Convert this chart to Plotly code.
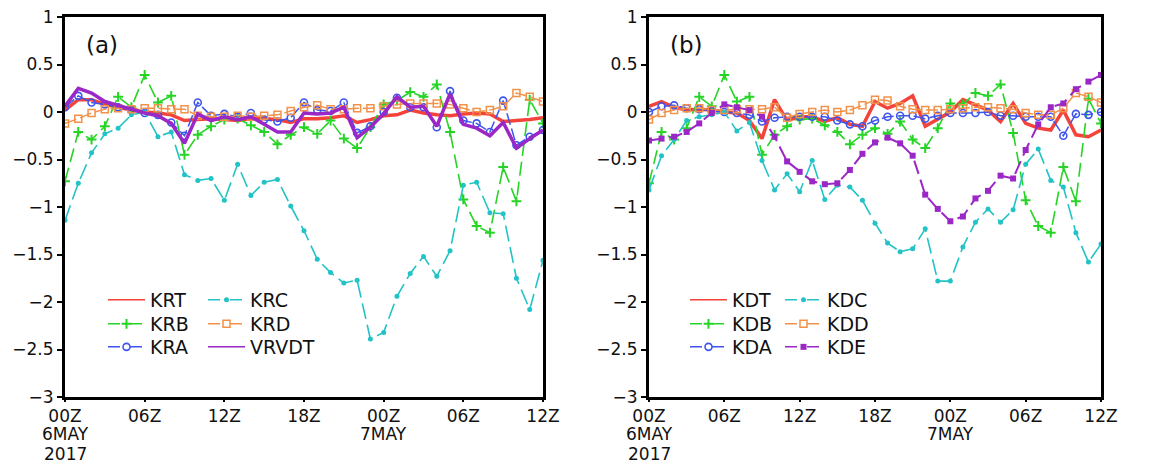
import copy
import plotly.graph_objects as go

# ---------------- data ----------------
hours = list(range(37))  # hourly, 00Z 6 May 2017 -> 12Z 7 May 2017
tick_hours = [0, 6, 12, 18, 24, 30, 36]
tick_text = ["00Z", "06Z", "12Z", "18Z", "00Z", "06Z", "12Z"]
date_hours = [0, 0, 24]
date_text = ["6MAY", "2017", "7MAY"]
date_line = [1, 2, 1]  # line below the hour label
y_ticks = [1, 0.5, 0, -0.5, -1, -1.5, -2, -2.5, -3]
y_text = ["1", "0.5", "0", "\u22120.5", "\u22121", "\u22121.5", "\u22122", "\u22122.5", "\u22123"]

# panel (a)
KRT = [0.02, 0.13, 0.13, 0.08, 0.05, 0.02, 0.0, -0.01, -0.03, -0.09, -0.08, -0.07, -0.08, -0.09,
       -0.07, -0.07, -0.08, -0.11, -0.07, -0.07, -0.06, -0.04, -0.11, -0.08, -0.04, -0.03, 0.02,
       -0.01, -0.03, -0.04, -0.02, -0.01, -0.02, -0.10, -0.09, -0.08, -0.06]
KRB = [-0.73, -0.21, -0.29, -0.15, 0.16, 0.05, 0.39, 0.10, 0.17, -0.45, -0.24, -0.15, -0.08, -0.07,
       -0.14, -0.21, -0.34, -0.24, -0.16, -0.23, -0.09, -0.28, -0.38, -0.16, 0.08, 0.12, 0.21,
       0.16, 0.29, -0.21, -0.92, -1.20, -1.27, -0.58, -0.94, 0.13, -0.12]
KRA = [0.05, 0.17, 0.10, 0.08, 0.05, 0.02, -0.01, -0.03, -0.11, -0.25, 0.10, -0.04, -0.02, -0.05,
       -0.01, -0.08, -0.10, -0.06, 0.10, 0.02, 0.01, 0.10, -0.22, -0.15, 0.0, 0.15, 0.05, 0.05,
       -0.16, 0.22, -0.09, -0.12, -0.21, 0.12, -0.35, -0.26, -0.19]
KRC = [-1.14, -0.75, -0.43, -0.23, -0.17, -0.03, 0.0, -0.26, -0.21, -0.66, -0.72, -0.70, -0.93,
       -0.55, -0.88, -0.74, -0.71, -0.99, -1.25, -1.55, -1.69, -1.80, -1.77, -2.39, -2.32, -1.94,
       -1.70, -1.52, -1.73, -1.46, -0.77, -0.74, -1.06, -1.07, -1.75, -2.08, -1.56]
KRD = [-0.12, -0.07, -0.01, 0.03, 0.04, 0.03, 0.04, 0.04, 0.03, 0.03, -0.04, -0.05, -0.05, -0.04,
       -0.05, -0.04, -0.03, 0.01, 0.05, 0.07, 0.03, 0.03, 0.04, 0.04, 0.06, 0.08, 0.09, 0.09, 0.09,
       0.08, 0.04, 0.0, 0.02, 0.06, 0.20, 0.16, 0.11]
VRVDT = [0.06, 0.25, 0.20, 0.11, 0.07, 0.03, -0.01, -0.04, -0.12, -0.33, -0.02, -0.09, -0.05, -0.08,
         -0.05, -0.13, -0.21, -0.21, -0.01, -0.02, -0.01, 0.05, -0.27, -0.16, -0.02, 0.16, 0.05,
         0.06, -0.15, 0.19, -0.13, -0.17, -0.25, -0.11, -0.38, -0.28, -0.19]

# panel (b)
KDT = [0.06, 0.11, 0.05, 0.02, 0.03, 0.02, 0.0, -0.01, -0.09, -0.28, 0.13, -0.09, -0.05, -0.05,
       -0.10, -0.06, -0.13, -0.15, 0.11, 0.04, 0.09, 0.17, -0.15, -0.08, 0.0, 0.13, 0.07, 0.02,
       -0.10, 0.09, -0.12, -0.17, -0.19, 0.02, -0.24, -0.26, -0.19]
KDB = [-0.75, -0.21, -0.29, -0.17, 0.16, 0.06, 0.39, 0.11, 0.16, -0.45, -0.24, -0.15, -0.08, -0.07,
       -0.14, -0.21, -0.34, -0.24, -0.17, -0.23, -0.10, -0.29, -0.38, -0.17, 0.09, 0.08, 0.20,
       0.17, 0.29, -0.22, -0.93, -1.20, -1.27, -0.58, -0.94, 0.14, -0.12]
KDA = [0.0, 0.06, 0.07, 0.04, 0.03, 0.01, 0.0, -0.01, -0.03, -0.10, -0.06, -0.05, -0.05, -0.05,
       -0.05, -0.09, -0.13, -0.15, -0.09, -0.05, -0.04, -0.04, -0.07, -0.04, -0.01, -0.01, -0.01,
       0.0, -0.04, -0.04, -0.05, -0.05, -0.05, -0.25, -0.02, -0.03, 0.0]
KDC = [-0.82, -0.46, -0.29, -0.09, -0.05, -0.03, 0.0, -0.20, -0.11, -0.51, -0.82, -0.65, -0.84,
       -0.51, -0.92, -0.77, -0.79, -0.93, -1.17, -1.38, -1.47, -1.44, -1.23, -1.78, -1.78, -1.42,
       -1.16, -1.02, -1.16, -1.03, -0.55, -0.39, -0.72, -0.79, -1.27, -1.58, -1.39]
KDD = [-0.08, -0.01, 0.02, 0.04, 0.04, 0.02, 0.02, 0.03, 0.03, 0.03, 0.05, -0.06, -0.02, 0.0,
       0.02, 0.0, 0.02, 0.07, 0.13, 0.12, 0.06, 0.03, 0.02, 0.02, 0.03, 0.04, 0.05, 0.05, 0.04,
       0.03, -0.01, -0.03, -0.03, 0.04, 0.20, 0.16, 0.10]
KDE = [-0.30, -0.28, -0.26, -0.21, -0.12, -0.01, 0.08, 0.05, 0.02, -0.05, -0.26, -0.52, -0.63,
       -0.73, -0.76, -0.75, -0.61, -0.44, -0.32, -0.27, -0.33, -0.46, -0.87, -1.02, -1.15, -1.10,
       -0.91, -0.83, -0.67, -0.70, -0.40, -0.13, 0.05, 0.09, 0.24, 0.32, 0.39]

# ---------------- styles ----------------
RED = "#f4433b"
GREEN = "#25d425"
BLUE = "#3d55ee"
CYAN = "#22c3c6"
ORANGE = "#f2924a"
PURPLE = "#9a27c6"
FONT = "DejaVu Sans"

styles = {
    "T": dict(mode="lines", line=dict(color=RED, width=3.5)),
    "B": dict(mode="lines+markers", line=dict(color=GREEN, width=1.6, dash="14px,6px"),
              marker=dict(symbol="cross-thin", size=7, line=dict(width=2, color=GREEN))),
    "A": dict(mode="lines+markers", line=dict(color=BLUE, width=1.5, dash="12px,4px"),
              marker=dict(symbol="circle-open", size=7, color=BLUE, line=dict(width=1.6, color=BLUE))),
    "C": dict(mode="lines+markers", line=dict(color=CYAN, width=1.6, dash="16px,6px"),
              marker=dict(symbol="circle", size=5, color=CYAN)),
    "D": dict(mode="lines+markers", line=dict(color=ORANGE, width=1.5, dash="12px,4px"),
              marker=dict(symbol="square-open", size=7, color=ORANGE, line=dict(width=1.5, color=ORANGE))),
    "V": dict(mode="lines", line=dict(color=PURPLE, width=3.5)),
    "E": dict(mode="lines+markers", line=dict(color=PURPLE, width=2, dash="14px,6px"),
              marker=dict(symbol="square", size=6, color=PURPLE)),
}
# legend samples are drawn thin, like the original
legend_dash = {"T": None, "V": None, "B": "12px,10px", "A": "12px,10px", "C": "12px,10px",
               "D": "12px,10px", "E": "12px,10px"}

PW, PH = 1036, 380  # plot-area size in px (margins l=65, r=53, t=17, b=71)


def px2paper(xp, yp):
    return (xp - 65) / PW, (397 - yp) / PH


fig = go.Figure()

panels = [
    ("x", "y", [("KRT", KRT, "T"), ("KRB", KRB, "B"), ("KRA", KRA, "A"),
                ("KRC", KRC, "C"), ("KRD", KRD, "D"), ("VRVDT", VRVDT, "V")], 103, 203),
    ("x2", "y2", [("KDT", KDT, "T"), ("KDB", KDB, "B"), ("KDA", KDA, "A"),
                  ("KDC", KDC, "C"), ("KDD", KDD, "D"), ("KDE", KDE, "E")], 685, 780),
]
row_y = [300, 324, 347]
legend_layouts = {}
li = 1
for xa, ya, series, c1, c2 in panels:
    for i, (name, vals, st) in enumerate(series):
        fig.add_trace(go.Scatter(x=hours, y=vals, name=name, xaxis=xa, yaxis=ya,
                                 showlegend=False, **styles[st]))
    for i, (name, vals, st) in enumerate(series):
        lname = "legend" if li == 1 else f"legend{li}"
        col = c1 if i < 3 else c2
        lx, ly = px2paper(col, row_y[i % 3])
        legend_layouts[lname] = dict(x=lx, y=ly, xanchor="left", yanchor="middle",
                                     bgcolor="rgba(0,0,0,0)", borderwidth=0, itemwidth=37,
                                     font=dict(family=FONT, size=19, color="#111"),
                                     tracegroupgap=0)
        st_leg = copy.deepcopy(styles[st])
        st_leg["line"]["width"] = 1.5
        if legend_dash[st]:
            st_leg["line"]["dash"] = legend_dash[st]
        # legend-only proxy (no data points drawn)
        fig.add_trace(go.Scatter(x=[None], y=[None], name=name, xaxis=xa, yaxis=ya,
                                 legend=lname, showlegend=True, **st_leg))
        li += 1

axis_common = dict(showline=True, mirror=True, linewidth=3, linecolor="black",
                   ticks="outside", tickwidth=1.5, tickcolor="black",
                   showgrid=False, zeroline=False, automargin=False)
xfont = dict(family=FONT, size=17, color="#111")
yfont = dict(family=FONT, size=17, color="#111")

fig.update_layout(
    width=1154, height=468,
    margin=dict(l=65, r=53, t=17, b=71, autoexpand=False),
    paper_bgcolor="white", plot_bgcolor="white",
    xaxis=dict(domain=[0, 478 / PW], range=[0, 36], tickmode="array", tickvals=tick_hours,
               ticktext=tick_text, anchor="y", tickfont=xfont, ticklen=2, **axis_common),
    xaxis2=dict(domain=[584 / PW, 1], range=[0, 36], tickmode="array", tickvals=tick_hours,
                ticktext=tick_text, anchor="y2", tickfont=xfont, ticklen=2, **axis_common),
    yaxis=dict(range=[-3, 1], tickmode="array", tickvals=y_ticks, ticktext=y_text,
               anchor="x", tickfont=yfont, ticklen=5, **axis_common),
    yaxis2=dict(range=[-3, 1], tickmode="array", tickvals=y_ticks, ticktext=y_text,
                anchor="x2", tickfont=yfont, ticklen=5, **axis_common),
    **legend_layouts,
)

# date lines under the hour labels (extra tick-label rows)
for xa in ["x", "x2"]:
    for h, txt, ln in zip(date_hours, date_text, date_line):
        ypix = 414 + 20 * ln
        fig.add_annotation(text=txt, xref=xa, yref="paper", x=h, y=(397 - ypix) / PH,
                           xanchor="center", yanchor="middle", showarrow=False,
                           font=xfont, borderpad=0)

fig.add_annotation(text="(a)", xref="x domain", yref="y domain", x=0.04, y=0.926,
                   xanchor="left", yanchor="middle", showarrow=False,
                   font=dict(family=FONT, size=23, color="#111"))
fig.add_annotation(text="(b)", xref="x2 domain", yref="y2 domain", x=0.042, y=0.926,
                   xanchor="left", yanchor="middle", showarrow=False,
                   font=dict(family=FONT, size=23, color="#111"))

fig.write_html("out.html")
